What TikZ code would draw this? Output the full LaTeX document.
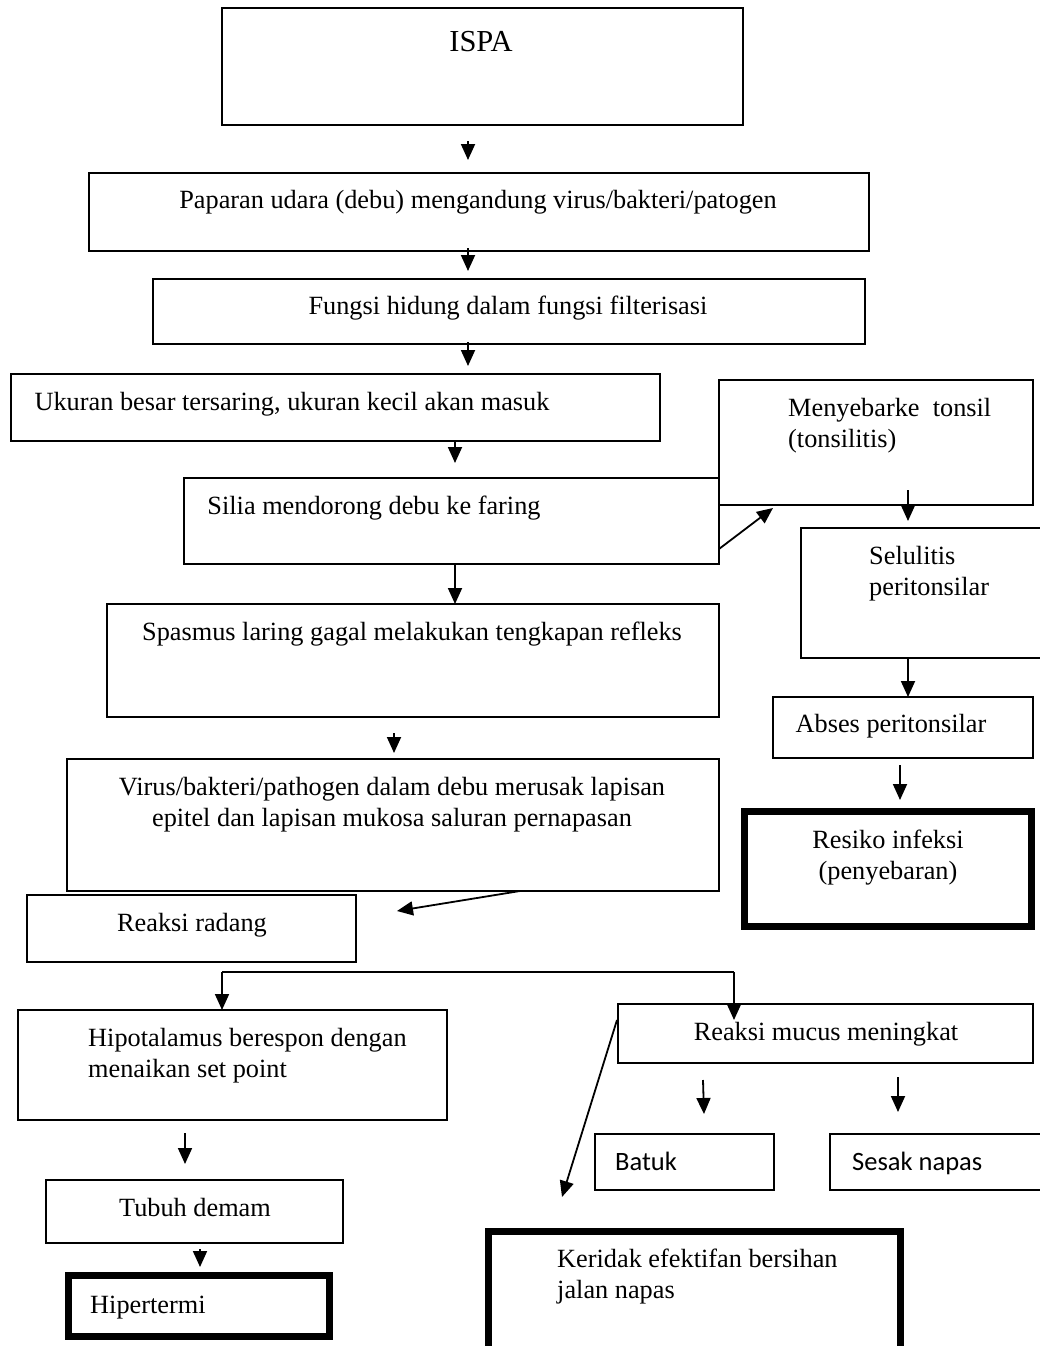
\documentclass[tikz,border=0pt]{standalone}
\usepackage{fontspec}
\setmainfont{Liberation Serif}
\newfontfamily\sansf{Carlito}
\usetikzlibrary{arrows.meta}
\tikzset{
  box/.style={draw, line width=1.8pt, inner sep=0pt, outer sep=0pt},
  thickbox/.style={draw, line width=7pt, inner sep=0pt, outer sep=0pt},
  txt/.style={inner sep=0pt, font=\fontsize{26.3}{31}\selectfont},
  stxt/.style={inner sep=0pt, font=\sansf\fontsize{26.5}{31}\selectfont},
  arr/.style={line width=1.8pt, -{Triangle[width=14pt,length=16pt]}},
  plain/.style={line width=1.8pt}
}
\begin{document}
\begin{tikzpicture}[x=1pt,y=-1pt]
\useasboundingbox (0,0) rectangle (1039,1346);
% boxes
\node[box, minimum width=521pt, minimum height=117pt] (ispa) at (482.5,66.5) {};
\node[box, minimum width=780pt, minimum height=78pt] (pap) at (479,212) {};
\node[box, minimum width=712pt, minimum height=65pt] (fung) at (509,311.5) {};
\node[box, minimum width=649pt, minimum height=67pt] (ukur) at (335.5,407.5) {};
\node[box, minimum width=535pt, minimum height=86pt] (silia) at (451.5,521) {};
\node[box, minimum width=314pt, minimum height=125pt] (meny) at (876,442.5) {};
\node[box, minimum width=244pt, minimum height=130pt] (selu) at (923,593) {};
\node[box, minimum width=260pt, minimum height=61pt] (abses) at (903,727.5) {};
\node[thickbox, minimum width=287pt, minimum height=115pt] (resiko) at (888,869) {};
\node[box, minimum width=612pt, minimum height=113pt] (spas) at (413,660.5) {};
\node[box, minimum width=652pt, minimum height=132pt] (virus) at (393,825) {};
\node[box, minimum width=329pt, minimum height=67pt] (radang) at (191.5,928.5) {};
\node[box, minimum width=429pt, minimum height=110pt] (hipo) at (232.5,1065) {};
\node[box, minimum width=415pt, minimum height=59pt] (mucus) at (825.5,1033.5) {};
\node[box, minimum width=179pt, minimum height=56pt] (batuk) at (684.5,1162) {};
\node[box, minimum width=215pt, minimum height=56pt] (sesak) at (937.5,1162) {};
\node[box, minimum width=297pt, minimum height=63pt] (tubuh) at (194.5,1211.5) {};
\node[thickbox, minimum width=261pt, minimum height=61pt] (hiper) at (198.5,1305.5) {};
\node[thickbox, minimum width=412pt, minimum height=129pt] (kerid) at (694,1295.5) {};
% texts
\node[txt, anchor=base, font=\fontsize{30.5}{34}\selectfont] (tispa) at (481,52) {ISPA};
\node[txt, anchor=base] (tpap) at (478,208) {Paparan udara (debu) mengandung virus/bakteri/patogen};
\node[txt, anchor=base] (tfung) at (508,314) {Fungsi hidung dalam fungsi filterisasi};
\node[txt, anchor=base] (tukur) at (292,410) {Ukuran besar tersaring, ukuran kecil akan masuk};
\node[txt, anchor=base] (tsilia) at (374,514) {Silia mendorong debu ke faring};
\node[txt, anchor=north west, align=left] (tmeny) at (788,398) {Menyebarke~ tonsil\\(tonsilitis)};
\node[txt, anchor=north west, align=left] (tselu) at (869,546) {Selulitis\\peritonsilar};
\node[txt, anchor=base] (tabses) at (891,732) {Abses peritonsilar};
\node[txt, anchor=north, align=center] (tresiko) at (888,830) {Resiko infeksi\\(penyebaran)};
\node[txt, anchor=base] (tspas) at (412,640) {Spasmus laring gagal melakukan tengkapan refleks};
\node[txt, anchor=north, align=center] (tvirus) at (392,777) {Virus/bakteri/pathogen dalam debu merusak lapisan\\epitel dan lapisan mukosa saluran pernapasan};
\node[txt, anchor=base] (tradang) at (192,931) {Reaksi radang};
\node[txt, anchor=north west, align=left] (thipo) at (88,1028) {Hipotalamus berespon dengan\\menaikan set point};
\node[txt, anchor=base] (tmucus) at (826,1040) {Reaksi mucus meningkat};
\node[stxt, anchor=base west] (tbatuk) at (615,1170) {Batuk};
\node[stxt, anchor=base west] (tsesak) at (852,1170) {Sesak napas};
\node[txt, anchor=base] (ttubuh) at (195,1216) {Tubuh demam};
\node[txt, anchor=base west] (thiper) at (90,1313) {Hipertermi};
\node[txt, anchor=north west, align=left] (tkerid) at (557,1249) {Keridak efektifan bersihan\\jalan napas};
% connector end points
\coordinate (a1s) at (468,141); \coordinate (a1e) at (468,160);
\coordinate (a2s) at (468,248); \coordinate (a2e) at (468,271);
\coordinate (a3s) at (468,342); \coordinate (a3e) at (468,366);
\coordinate (a4s) at (455,440); \coordinate (a4e) at (455,463);
\coordinate (a5s) at (455,564); \coordinate (a5e) at (455,604);
\coordinate (a6s) at (719,549); \coordinate (a6e) at (773,508);
\coordinate (a7s) at (908,490); \coordinate (a7e) at (908,521);
\coordinate (a8s) at (908,658); \coordinate (a8e) at (908,697);
\coordinate (a9s) at (900,765); \coordinate (a9e) at (900,800);
\coordinate (a10s) at (394,733); \coordinate (a10e) at (394,753);
\coordinate (a11s) at (520,891); \coordinate (a11e) at (397,911);
\coordinate (jl) at (222,972); \coordinate (jr) at (734,972);
\coordinate (jle) at (222,1010); \coordinate (jre) at (734,1020);
\coordinate (a13s) at (185,1133); \coordinate (a13e) at (185,1164);
\coordinate (a14s) at (200,1249); \coordinate (a14e) at (200,1267);
\coordinate (a15s) at (703,1080); \coordinate (a15e) at (704,1114);
\coordinate (a16s) at (898,1077); \coordinate (a16e) at (898,1112);
\coordinate (a17s) at (617,1020); \coordinate (a17e) at (562,1197);
% connectors
\draw[arr] (a1s) -- (a1e);
\draw[arr] (a2s) -- (a2e);
\draw[arr] (a3s) -- (a3e);
\draw[arr] (a4s) -- (a4e);
\draw[arr] (a5s) -- (a5e);
\draw[arr] (a6s) -- (a6e);
\draw[arr] (a7s) -- (a7e);
\draw[arr] (a8s) -- (a8e);
\draw[arr] (a9s) -- (a9e);
\draw[arr] (a10s) -- (a10e);
\draw[arr] (a11s) -- (a11e);
\draw[plain] (jl) -- (jr);
\draw[arr] (jl) -- (jle);
\draw[arr] (jr) -- (jre);
\draw[arr] (a13s) -- (a13e);
\draw[arr] (a14s) -- (a14e);
\draw[arr] (a15s) -- (a15e);
\draw[arr] (a16s) -- (a16e);
\draw[arr] (a17s) -- (a17e);
\end{tikzpicture}
\end{document}
